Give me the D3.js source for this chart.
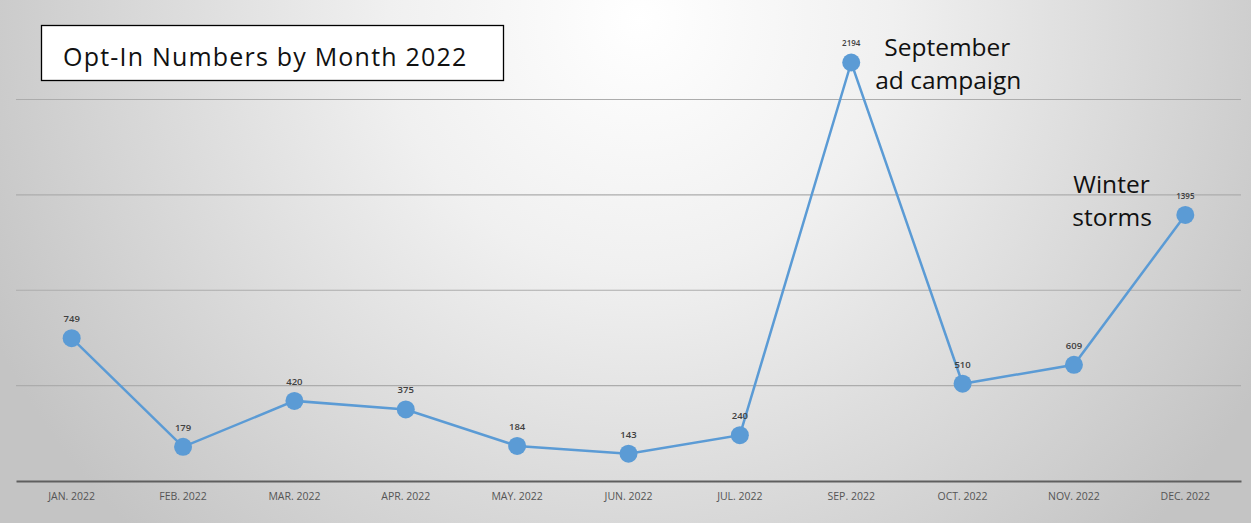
<!DOCTYPE html>
<html>
<head>
<meta charset="utf-8">
<script src="https://cdn.jsdelivr.net/npm/d3@7/dist/d3.min.js"></script>
<style>
  html, body { margin: 0; padding: 0; background: #fff; }
  svg { display: block; }
</style>
</head>
<body>
<svg id="chart" width="1251" height="523"></svg>
<script>
// Monthly opt-in counts (August has no entry)
const months = ["JAN. 2022", "FEB. 2022", "MAR. 2022", "APR. 2022", "MAY. 2022", "JUN. 2022",
                "JUL. 2022", "SEP. 2022", "OCT. 2022", "NOV. 2022", "DEC. 2022"];
const optIns = [749, 179, 420, 375, 184, 143, 240, 2194, 510, 609, 1395];
const gridValues = [500, 1000, 1500, 2000];
const titleText = "Opt-In Numbers by Month 2022";
const notes = [
  { month: "SEP. 2022", lines: ["September", "ad campaign"] },
  { month: "DEC. 2022", lines: ["Winter", "storms"] }
];

const W = 1251, H = 523;
const svg = d3.select("#chart");
const font = "'Open Sans', 'Noto Sans', sans-serif";

// Soft radial background, light at top centre fading to grey
const defs = svg.append("defs");
const grad = defs.append("radialGradient")
  .attr("id", "bg").attr("gradientUnits", "userSpaceOnUse")
  .attr("cx", 640).attr("cy", 20).attr("r", 720);
grad.append("stop").attr("offset", "0%").attr("stop-color", "#ffffff");
grad.append("stop").attr("offset", "35%").attr("stop-color", "#f0f0f0");
grad.append("stop").attr("offset", "100%").attr("stop-color", "#c4c4c4");
svg.append("rect").attr("width", W).attr("height", H).attr("fill", "url(#bg)");

const x = d3.scaleBand().domain(months).range([16, 1241]);
const y = d3.scaleLinear().domain([0, 2000]).range([481, 99.5]);
const cx = m => x(m) + x.bandwidth() / 2;

// Horizontal gridlines
svg.append("g").selectAll("line").data(gridValues).join("line")
  .attr("x1", 16).attr("x2", 1241)
  .attr("y1", d => y(d)).attr("y2", d => y(d))
  .attr("stroke", "#acacac").attr("stroke-width", 1.2);

// Category axis
const xAxis = svg.append("g").attr("transform", `translate(0,${y(0)})`)
  .call(d3.axisBottom(x).tickSize(0).tickPadding(12));
xAxis.select(".domain").attr("stroke", "#5f5f5f").attr("stroke-width", 2);
xAxis.selectAll("text")
  .attr("font-family", font).attr("font-size", 10.5).attr("fill", "#555");

// Line and markers
const line = d3.line().x((d, i) => cx(months[i])).y(d => y(d));
svg.append("path").datum(optIns)
  .attr("d", line).attr("fill", "none")
  .attr("stroke", "#5b9bd5").attr("stroke-width", 2.5);

svg.append("g").selectAll("circle").data(optIns).join("circle")
  .attr("cx", (d, i) => cx(months[i])).attr("cy", d => y(d))
  .attr("r", 9).attr("fill", "#5b9bd5");

// Value labels above each marker
svg.append("g").selectAll("text").data(optIns).join("text")
  .attr("x", (d, i) => cx(months[i])).attr("y", d => y(d) - 16)
  .attr("text-anchor", "middle")
  .attr("font-family", font).attr("font-weight", 600)
  .attr("font-size", d => d >= 1000 ? 8 : 9.5)
  .attr("fill", "#404040")
  .text(d => d);

// Title box
svg.append("rect").attr("x", 41.5).attr("y", 25.5).attr("width", 462).attr("height", 55)
  .attr("fill", "#ffffff").attr("stroke", "#000").attr("stroke-width", 1.3);
svg.append("text").attr("x", 63).attr("y", 66)
  .attr("font-family", font).attr("font-size", 25).attr("letter-spacing", 1.2)
  .attr("fill", "#111")
  .text(titleText);

// Event annotations beside the notable points
const noteOffsets = { "SEP. 2022": [{ dx: 33, dy: -6 }, { dx: 24, dy: 27 }],
                      "DEC. 2022": [{ dx: -112, dy: -22 }, { dx: -113, dy: 11 }] };
notes.forEach(n => {
  const i = months.indexOf(n.month);
  const px = cx(n.month), py = y(optIns[i]);
  n.lines.forEach((t, k) => {
    const o = noteOffsets[n.month][k];
    svg.append("text").attr("x", px + o.dx).attr("y", py + o.dy)
      .attr("font-family", font).attr("font-size", 24.5).attr("fill", "#111")
      .text(t);
  });
});
</script>
</body>
</html>
